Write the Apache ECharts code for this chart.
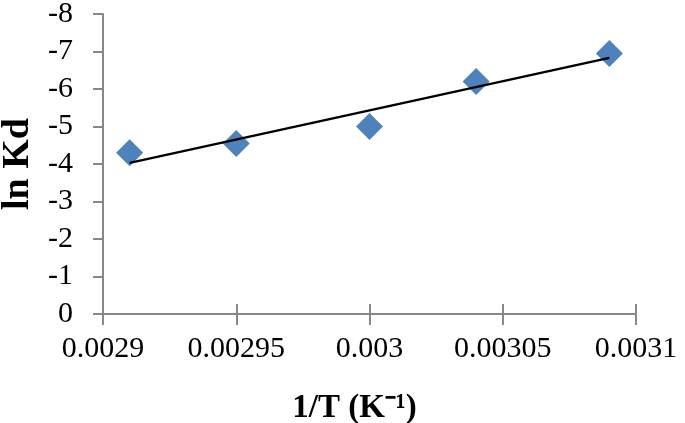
<!DOCTYPE html>
<html>
<head>
<meta charset="utf-8">
<script src="https://cdn.jsdelivr.net/npm/echarts@6/dist/echarts.min.js"></script>
<style>
  html, body { margin: 0; padding: 0; background: #fff; }
  #chart { width: 685px; height: 423px; }
</style>
</head>
<body>
<div id="chart"></div>
<script>
// measured points: 1/T vs ln Kd
const invT = [0.00291, 0.00295, 0.003, 0.00304, 0.00309]
const lnKd = [-4.3, -4.55, -5.0, -6.2, -6.95]

// linear trend line ends
const trendX = [0.00291, 0.00309]
const trendY = [-4.03, -6.83]

const axisGray = '#888888'
const serif = '"Liberation Serif", "Times New Roman", serif'

const chart = echarts.init(document.getElementById('chart'))

const xBase = {
  type: 'value',
  min: 0.0029,
  max: 0.0031,
  interval: 0.00005,
  splitLine: { show: false },
  axisLine: { lineStyle: { color: axisGray, width: 2 } }
}

chart.setOption({
  animation: false,
  grid: { left: 103, right: 49, top: 14, bottom: 109, outerBoundsMode: 'none', containLabel: false },
  xAxis: [
    Object.assign({}, xBase, {
      name: '1/T (K\u207B\u00B9)',
      nameLocation: 'middle',
      nameGap: 78,
      nameTextStyle: {
        fontFamily: serif, fontWeight: 'bold', fontSize: 33, color: '#000',
        padding: [0, 30, 0, 0]
      },
      axisTick: { length: 11, lineStyle: { color: axisGray, width: 2 } },
      axisLabel: {
        margin: 20,
        fontFamily: serif,
        fontSize: 30,
        color: '#000',
        formatter: v => String(+v.toFixed(5))
      }
    }),
    // second copy only for the upward half of the crossing ticks
    Object.assign({}, xBase, {
      position: 'bottom',
      axisTick: { inside: true, length: 10, lineStyle: { color: axisGray, width: 2 } },
      axisLabel: { show: false }
    })
  ],
  yAxis: {
    type: 'value',
    inverse: true,
    min: -8,
    max: 0,
    interval: 1,
    name: 'ln Kd',
    nameLocation: 'middle',
    nameGap: 60,
    nameTextStyle: { fontFamily: serif, fontWeight: 'bold', fontSize: 38, color: '#000' },
    splitLine: { show: false },
    axisLine: { show: true, lineStyle: { color: axisGray, width: 2 } },
    axisTick: { show: true, length: 10, lineStyle: { color: axisGray, width: 2 } },
    axisLabel: { margin: 30, fontFamily: serif, fontSize: 30, color: '#000' }
  },
  series: [
    {
      type: 'scatter',
      symbol: 'diamond',
      symbolSize: 27,
      itemStyle: { color: '#4f81bd', opacity: 1 },
      data: invT.map((x, i) => [x, lnKd[i]]),
      z: 2
    },
    {
      type: 'line',
      symbol: 'none',
      lineStyle: { color: '#000', width: 2.5 },
      data: trendX.map((x, i) => [x, trendY[i]]),
      z: 3
    }
  ]
})
</script>
</body>
</html>
